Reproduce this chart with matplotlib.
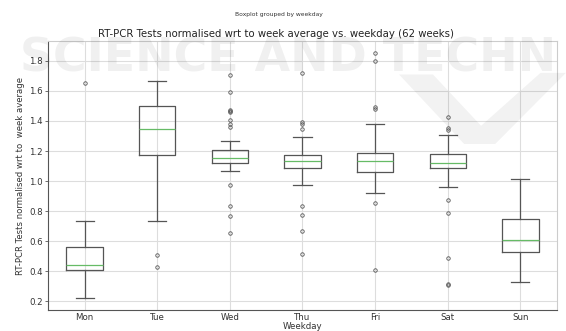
import matplotlib
matplotlib.use('Agg')
import matplotlib.pyplot as plt

# values
weekdays = ['Mon', 'Tue', 'Wed', 'Thu', 'Fri', 'Sat', 'Sun']
q1 = [0.409, 1.171, 1.118, 1.087, 1.058, 1.085, 0.527]
med = [0.440, 1.344, 1.153, 1.136, 1.131, 1.118, 0.607]
q3 = [0.564, 1.501, 1.205, 1.171, 1.189, 1.178, 0.746]
whis_lo = [0.221, 0.737, 1.065, 0.972, 0.921, 0.963, 0.328]
whis_hi = [0.737, 1.667, 1.264, 1.295, 1.377, 1.304, 1.012]
fliers = [
    [1.65],
    [0.509, 0.427],
    [1.705, 1.592, 1.474, 1.468, 1.459, 1.408, 1.377, 1.361, 0.976, 0.837, 0.770, 0.657],
    [1.718, 1.395, 1.379, 1.344, 0.835, 0.775, 0.670, 0.516],
    [1.851, 1.800, 1.490, 1.482, 0.852, 0.407],
    [1.424, 1.355, 1.340, 0.876, 0.788, 0.487, 0.314, 0.308],
    [],
]

stats = []
for i, day in enumerate(weekdays):
    stats.append({'label': day, 'q1': q1[i], 'med': med[i], 'q3': q3[i],
                  'whislo': whis_lo[i], 'whishi': whis_hi[i], 'fliers': fliers[i]})

fig = plt.figure(figsize=(5.66, 3.31), dpi=100)
ax = fig.add_axes([0.0853, 0.0634, 0.8983, 0.8126])

box_c = '#555555'
ax.bxp(stats, widths=0.5, showfliers=True,
       boxprops=dict(color=box_c, linewidth=0.9),
       whiskerprops=dict(color=box_c, linewidth=0.9),
       capprops=dict(color=box_c, linewidth=0.9),
       medianprops=dict(color='#66bb66', linewidth=0.9),
       flierprops=dict(marker='o', markersize=2.5, markerfacecolor='none',
                       markeredgecolor='#555555', markeredgewidth=0.6))

ax.set_ylim(0.143, 1.931)
ax.set_xlim(0.5, 7.5)
ax.set_yticks([0.2, 0.4, 0.6, 0.8, 1.0, 1.2, 1.4, 1.6, 1.8])
ax.grid(True, color='#dddddd', linewidth=0.8)
ax.set_axisbelow(True)
for side in ['top', 'right']:
    ax.spines[side].set_color('#cccccc')
for side in ['left', 'bottom']:
    ax.spines[side].set_color('#555555')
ax.tick_params(axis='both', labelsize=6.2, colors='#333333', length=2, width=0.5, pad=2)
ax.tick_params(axis='x', length=0)

fig.text(0.488, 0.897, 'RT-PCR Tests normalised wrt to week average vs. weekday (62 weeks)',
         fontsize=7.3, color='#222222', ha='center', va='center')
fig.suptitle('Boxplot grouped by weekday', fontsize=4.3, x=0.493, y=0.965, color='#333333')
ax.set_xlabel('Weekday', fontsize=6.2, labelpad=0, color='#333333')
ax.set_ylabel('RT-PCR Tests normalised wrt to  week average', fontsize=6.1,
              labelpad=3, color='#333333')

# faint watermark of the source page
fig.text(0.035, 0.822, 'SCIENCE AND TECHN', fontsize=33, fontweight='bold',
         color='#000000', alpha=0.06, ha='left', va='center', zorder=10)
fig.patches.append(plt.Polygon([[0.705, 0.775], [0.765, 0.775], [0.85, 0.62],
                                [0.955, 0.78], [1.0, 0.78], [0.875, 0.565], [0.82, 0.565]],
                               closed=True, transform=fig.transFigure,
                               facecolor='#000000', alpha=0.05, edgecolor='none', zorder=10))

fig.savefig('out.png', dpi=100)
